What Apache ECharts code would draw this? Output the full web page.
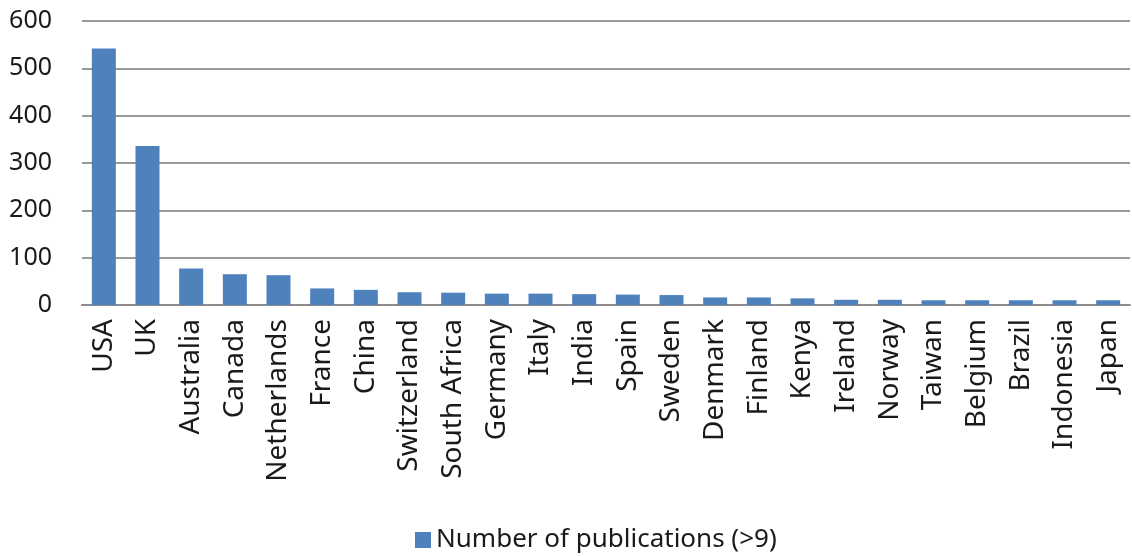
<!DOCTYPE html>
<html>
<head>
<meta charset="utf-8">
<script src="https://cdn.jsdelivr.net/npm/echarts@6/dist/echarts.min.js"></script>
<style>
html,body{margin:0;padding:0;background:#fff;}
#c{width:1132px;height:556px;}
</style>
</head>
<body>
<div id="c"></div>
<script>
const categories = ["USA","UK","Australia","Canada","Netherlands","France","China","Switzerland","South Africa","Germany","Italy","India","Spain","Sweden","Denmark","Finland","Kenya","Ireland","Norway","Taiwan","Belgium","Brazil","Indonesia","Japan"];
const publications = [542,336,77,65,63,35,32,27,26,24,24,23,22,21,16,16,14,11,11,10,10,10,10,10];
const seriesName = "Number of publications (>9)";
const yTicks = [0,100,200,300,400,500,600];

const chart = echarts.init(document.getElementById('c'), null, {renderer:'canvas'});
chart.setOption({
  animation:false,
  backgroundColor:'#fff',
  textStyle:{fontFamily:'Noto Sans'},
  grid:{left:82,right:2,top:21,bottom:251,containLabel:false},
  legend:{
    top:522,left:410,
    itemWidth:16,itemHeight:16,itemGap:6,
    icon:'rect',
    textStyle:{fontSize:26,color:'#1a1a1a',fontFamily:'Noto Sans'},
    data:[seriesName]
  },
  xAxis:{
    type:'category',
    data:categories,
    axisLine:{show:true,lineStyle:{color:'#8c8c8c',width:2}},
    axisTick:{show:false},
    axisLabel:{rotate:90,interval:0,fontSize:28,color:'#1a1a1a',margin:14,fontFamily:'Noto Sans'}
  },
  yAxis:{
    type:'value',
    min:yTicks[0],max:yTicks[yTicks.length-1],interval:100,
    axisLine:{show:false},
    axisTick:{show:false},
    axisLabel:{fontSize:25,color:'#1a1a1a',margin:30,fontFamily:'Noto Sans'},
    splitLine:{show:true,lineStyle:{color:'#9a9a9a',width:2}}
  },
  series:[{
    name:seriesName,
    type:'bar',
    data:publications,
    barCategoryGap:'45%',
    itemStyle:{color:'#4F81BD'}
  }]
});
</script>
</body>
</html>
